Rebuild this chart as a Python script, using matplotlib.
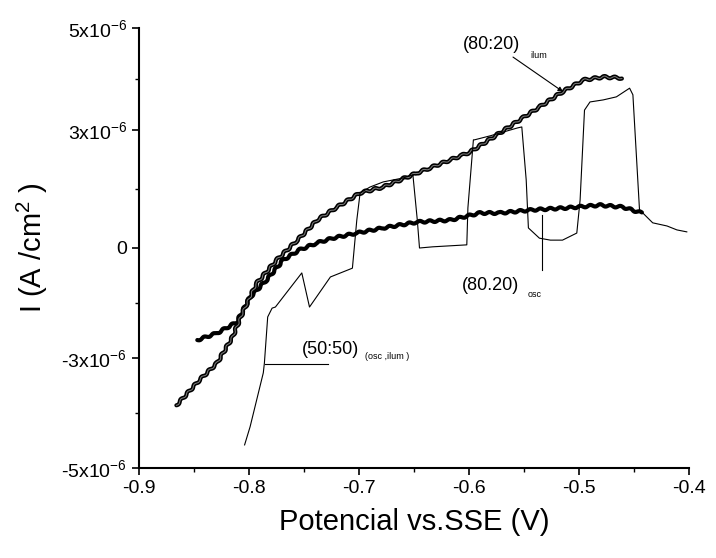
import numpy as np
import matplotlib
matplotlib.use("Agg")
import matplotlib.pyplot as plt

plt.rcParams['font.family'] = ['Liberation Sans', 'DejaVu Sans']
plt.rcParams['mathtext.default'] = 'regular'

# --- datos: potencial (V vs SSE) y corriente (en unidades de 1e-6 A/cm2) ---
ilum_v = [-0.866, -0.845, -0.829, -0.815, -0.806, -0.793, -0.775, -0.756, -0.738, -0.720,
          -0.699, -0.678, -0.647, -0.636, -0.617, -0.606, -0.599, -0.575, -0.551, -0.536,
          -0.515, -0.496, -0.478, -0.461]
ilum_i = [-3.86, -3.40, -3.09, -2.43, -1.77, -0.96, -0.33, 0.20, 0.71, 1.04,
          1.40, 1.55, 1.91, 2.03, 2.24, 2.36, 2.44, 2.87, 3.24, 3.45,
          3.75, 3.98, 4.04, 4.02]

osc_v = [-0.847, -0.829, -0.811, -0.799, -0.784, -0.769, -0.754, -0.738, -0.724, -0.702,
         -0.678, -0.647, -0.617, -0.590, -0.572, -0.542, -0.511, -0.481, -0.460, -0.443]
osc_i = [-2.51, -2.32, -2.02, -1.34, -0.87, -0.33, -0.05, 0.13, 0.25, 0.38,
         0.51, 0.66, 0.71, 0.89, 0.89, 0.97, 1.02, 1.09, 1.04, 0.89]

mix_v = [-0.804, -0.799, -0.793, -0.787, -0.786, -0.783, -0.779, -0.776, -0.752, -0.745,
         -0.726, -0.706, -0.702, -0.699, -0.690, -0.678, -0.660, -0.651, -0.647, -0.645,
         -0.633, -0.602, -0.601, -0.596, -0.595, -0.581, -0.556, -0.552, -0.548, -0.546,
         -0.536, -0.526, -0.515, -0.502, -0.499, -0.495, -0.490, -0.478, -0.466, -0.454,
         -0.451, -0.445, -0.442, -0.433, -0.420, -0.411, -0.402]
mix_i = [-4.58, -4.25, -3.76, -3.27, -3.09, -1.88, -1.64, -1.61, -0.68, -1.61,
         -0.79, -0.55, 0.71, 1.40, 1.55, 1.68, 1.78, 1.86, 0.71, 0.00,
         0.03, 0.08, 1.02, 2.75, 2.75, 2.85, 3.04, 3.06, 1.73, 0.51,
         0.25, 0.20, 0.20, 0.38, 1.22, 3.39, 3.55, 3.59, 3.65, 3.82,
         3.69, 0.97, 0.89, 0.64, 0.56, 0.46, 0.41]

x_ticks = [-0.9, -0.8, -0.7, -0.6, -0.5, -0.4]
x_labels = ['-0.9', '-0.8', '-0.7', '-0.6', '-0.5', '-0.4']
# el eje y original no es lineal: marcas con estas etiquetas
y_ticks = [-5, -3, 0, 3, 5]
y_labels = ['-5x10$^{-6}$', '-3x10$^{-6}$', '0', '3x10$^{-6}$', '5x10$^{-6}$']
tick_pos = [0, 110, 220, 338, 440]


def fwd(y):
    return np.interp(y, y_ticks, tick_pos)


def inv(p):
    return np.interp(p, tick_pos, y_ticks)


fig = plt.figure(figsize=(7.16, 5.58), dpi=100)
ax = fig.add_axes([139 / 716, 90 / 558, 550 / 716, 440 / 558])
ax.set_yscale('function', functions=(fwd, inv))
ax.set_xlim(-0.9, -0.4)
ax.set_ylim(-5, 5)

# curvas (trazo ondulado como en el original)
wave = (1.0, 10, 1)
ln, = ax.plot(osc_v, osc_i, color='black', lw=3.0, solid_capstyle='round')
ln.set_sketch_params(*wave)
ln, = ax.plot(ilum_v, ilum_i, color='black', lw=3.0, solid_capstyle='round')
ln.set_sketch_params(*wave)
ln, = ax.plot(ilum_v, ilum_i, color='#808080', lw=0.7)
ln.set_sketch_params(*wave)
ax.plot(mix_v, mix_i, color='black', lw=0.8)

# etiquetas
ax.text(-0.6055, 4.67, '(80:20)', fontsize=13, ha='left', va='center')
ax.text(-0.5445, 4.47, 'ilum', fontsize=6.5, ha='left', va='center')
ax.annotate('', xy=(-0.5145, 3.75), xytext=(-0.560, 4.43),
            arrowprops=dict(arrowstyle='-|>', color='black', lw=0.8,
                            mutation_scale=7, shrinkA=0, shrinkB=0))

ax.text(-0.6064, -1.01, '(80.20)', fontsize=13, ha='left', va='center')
ax.text(-0.5464, -1.28, 'osc', fontsize=6.5, ha='left', va='center')
ax.plot([-0.5336, -0.5336], [0.84, -0.60], color='black', lw=0.8)

ax.text(-0.7518, -2.78, '(50:50)', fontsize=13, ha='left', va='center')
ax.text(-0.6945, -2.97, '(osc ,ilum )', fontsize=6.5, ha='left', va='center')
ax.plot([-0.7855, -0.7282], [-3.11, -3.11], color='black', lw=0.8)

# ejes
for s in ['top', 'right']:
    ax.spines[s].set_visible(False)
for s in ['left', 'bottom']:
    ax.spines[s].set_linewidth(1.5)

ax.set_xticks(x_ticks)
ax.set_xticklabels(x_labels)
ax.set_xticks([-0.85, -0.75, -0.65, -0.55, -0.45], minor=True)
ax.set_yticks(y_ticks)
ax.set_yticklabels(y_labels)
ax.set_yticks([-4, -1.5, 1.5, 4], minor=True)
ax.tick_params(which='major', direction='out', length=5, width=1.2, labelsize=14)
ax.tick_params(which='minor', direction='out', length=3, width=1.0)

ax.set_xlabel('Potencial vs.SSE (V)', fontsize=21, labelpad=8)
ax.set_ylabel('I (A /cm$^{2}$ )', fontsize=21, labelpad=8)

fig.savefig('out.png', dpi=100)
